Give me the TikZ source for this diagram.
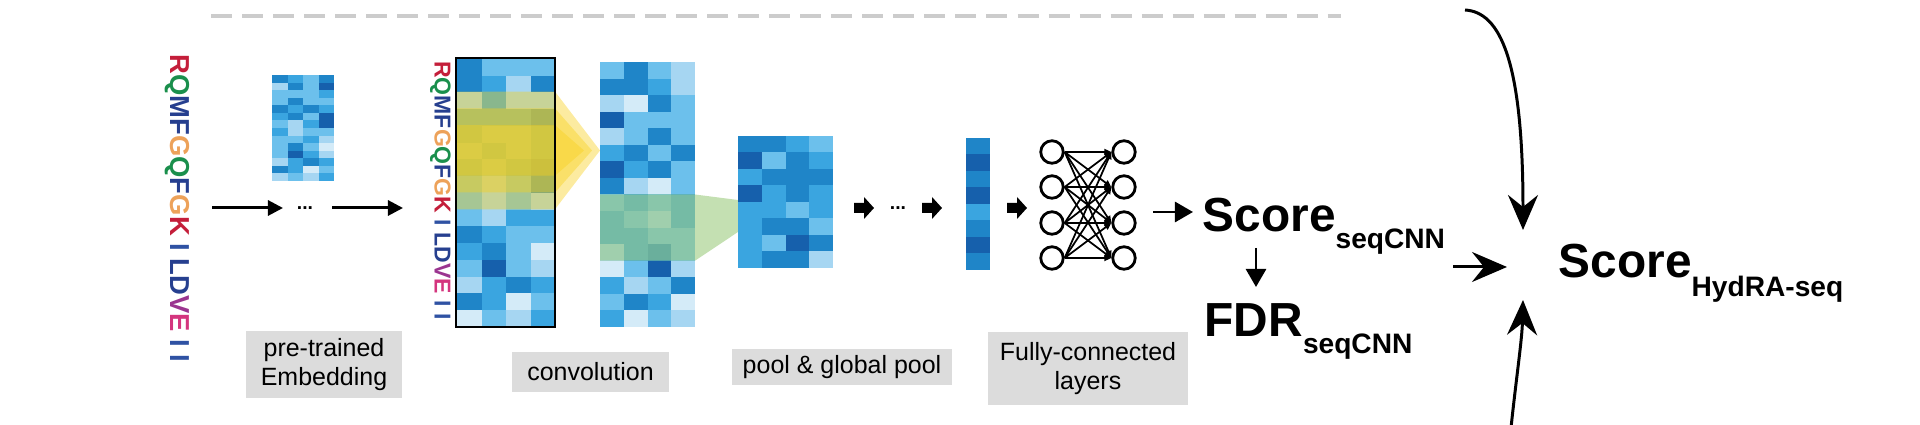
\documentclass[tikz,border=0pt]{standalone}
\usepackage{fontspec}
\setmainfont{Liberation Sans}
\usetikzlibrary{arrows.meta}

% blues, light to dark
\definecolor{b1}{HTML}{D4EBF8}
\definecolor{b2}{HTML}{A6D6F2}
\definecolor{b3}{HTML}{6CC0EC}
\definecolor{b4}{HTML}{3AA5E0}
\definecolor{b5}{HTML}{1F85C8}
\definecolor{b6}{HTML}{1660AC}
% residue colours
\definecolor{sqR}{HTML}{C41E3A}
\definecolor{sqG}{HTML}{1A8F4C}
\definecolor{sqN}{HTML}{263F8F}
\definecolor{sqO}{HTML}{EDA25A}
\definecolor{sqB}{HTML}{2F52A3}
\definecolor{sqP}{HTML}{9B3590}
\definecolor{sqM}{HTML}{D4357E}
\definecolor{hlyellow}{HTML}{F7D01C}
\definecolor{hlgreen}{HTML}{9DCB7F}
\definecolor{lblgray}{HTML}{DCDCDC}

\newcommand{\seqletters}{\textcolor{sqR}{R}\textcolor{sqG}{Q}\textcolor{sqN}{MF}\textcolor{sqO}{G}\textcolor{sqG}{Q}\textcolor{sqN}{F}\textcolor{sqO}{G}\textcolor{sqR}{K} \textcolor{sqB}{I} \textcolor{sqN}{LD}\textcolor{sqP}{V}\textcolor{sqM}{E} \textcolor{sqB}{I} \textcolor{sqB}{I}}
\newcommand{\lowtext}[2]{\raisebox{#1}{\fontsize{8}{10}\selectfont #2}}
% x, y, cell width, cell height, rows
\newcommand{\heatmap}[5]{%
  \foreach \hmrow [count=\i from 0] in {#5} {
    \foreach \hmc [count=\j from 0] in \hmrow
      \fill[b\hmc] ({#1+#3*\j},{#2+#4*\i}) rectangle ++({#3+0.4},{#4+0.4});
  }}
\newcommand{\fatarrow}[2]{\fill ({#1},{#2-5}) -- ++(10,0) -- ++(0,-6) -- ++(10,11) -- ++(-10,11) -- ++(0,-6) -- ++(-10,0) -- cycle;}

\tikzset{
  seq/.style={rotate=-90, inner sep=0},
  lbl/.style={fill=lblgray, inner sep=0, align=center, font=\fontsize{7.1}{8.2}\selectfont},
  neuron/.style={circle, draw, line width=0.8pt, minimum size=0.225cm, inner sep=0},
  thinarrow/.style={line width=0.85pt, -{Triangle[length=1.5mm,width=1.5mm]}},
  scorearrow/.style={line width=0.8pt, -{Triangle[length=1.8mm,width=2mm]}},
  fcedge/.style={line width=0.5pt, -{Triangle[length=0.7mm,width=0.6mm]}},
  bigarrow/.style={line width=0.85pt, -{Stealth[length=3.5mm,width=3mm,inset=1.2mm]}},
  dotsnode/.style={inner sep=0, font=\bfseries\fontsize{5.5}{6}\selectfont},
  bigtext/.style={anchor=base west, inner sep=0, font=\bfseries\fontsize{13.6}{16}\selectfont}
}

\begin{document}
\begin{tikzpicture}[x=0.01cm, y=-0.01cm]
    \useasboundingbox (0,0) rectangle (1920,425);

    % separator
    \draw[black!20, line width=1.1pt, dash pattern=on 0.21cm off 0.1cm] (211,16) -- (1341,16);

    % input sequence
    \node[seq, font=\bfseries\fontsize{7.8}{9}\selectfont] (seqL) at (177.5,208.5) {\seqletters};
    \coordinate (a1) at (212,208);
    \coordinate (a2) at (283,208);
    \coordinate (a3) at (332,208);
    \coordinate (a4) at (403,208);
    \draw[thinarrow] (a1) -- (a2);
    \node[dotsnode] (dotsA) at (305,208) {...};
    \draw[thinarrow] (a3) -- (a4);

    % embedding
    \heatmap{272}{75}{15.5}{7.57}{{5,4,3,5},{2,5,3,6},{3,3,3,4},{3,5,3,3},{5,4,5,4},{4,5,3,6},{3,2,4,6},{4,2,3,3},{3,3,4,2},{3,5,3,1},{3,6,4,2},{2,4,5,4},{5,4,1,3},{2,3,2,4}}

    % convolution
    \node[seq, font=\bfseries\fontsize{6.55}{8}\selectfont] (seqC) at (440.5,190.5) {\seqletters};
    \heatmap{457}{59}{24.5}{16.75}{{5,3,3,3},{5,4,2,5},{2,4,2,2},{4,4,4,5},{4,3,3,4},{3,4,3,4},{4,3,4,5},{3,2,3,5},{3,2,3,2},{3,2,4,4},{5,4,3,3},{4,5,3,1},{3,6,3,2},{2,4,5,4},{5,4,1,3},{1,3,2,4}}
    \heatmap{600}{62}{23.75}{16.56}{{3,5,3,2},{5,5,4,2},{2,1,5,3},{6,3,3,3},{2,3,5,3},{4,5,3,5},{6,4,5,3},{5,2,1,3},{3,4,3,4},{4,3,2,4},{4,4,3,3},{2,4,5,3},{1,3,6,2},{4,2,3,5},{3,5,4,1},{4,1,3,2}}
    \begin{scope}[fill=hlyellow, fill opacity=0.42]
        \fill (456,91.6) -- (555,91.6) -- (600,150.5) -- (555,209.3) -- (456,209.3) -- cycle;
        \fill (456,108.4) -- (555,108.4) -- (592,150.5) -- (555,192.5) -- (456,192.5) -- cycle;
        \fill (456,125.2) -- (555,125.2) -- (584,150.5) -- (555,175.7) -- (456,175.7) -- cycle;
    \end{scope}
    \node[draw, line width=0.75pt, minimum width=0.99cm, minimum height=2.69cm, inner sep=0] (conv) at (505.5,192.5) {};
    \fill[hlgreen, fill opacity=0.6] (600,194.5) -- (695,194.5) -- (738,200) -- (738,232) -- (695,260.7) -- (600,260.7) -- cycle;

    % pooling
    \heatmap{738}{136}{23.75}{16.5}{{5,5,4,3},{6,3,5,4},{4,5,5,5},{6,4,5,4},{4,4,3,4},{4,5,5,3},{4,3,6,5},{4,5,5,2}}
    \fatarrow{854}{208}
    \node[dotsnode] (dotsB) at (898,208) {...};
    \fatarrow{922}{208}
    \heatmap{966}{138}{24}{16.5}{{5},{6},{5},{6},{4},{5},{6},{5}}
    \fatarrow{1007}{208}

    % fully connected
    \foreach \i/\y in {1/152,2/187,3/223,4/258} {
        \node[neuron] (l\i) at (1052,\y) {};
        \node[neuron] (r\i) at (1124,\y) {};
    }
    \foreach \i in {1,...,4}
        \foreach \j in {1,...,4}
            \draw[fcedge] (l\i.east) -- (r\j.west);

    % scores
    \coordinate (s1) at (1153,212);
    \coordinate (s2) at (1193,212);
    \draw[scorearrow] (s1) -- (s2);
    \node[bigtext] (score) at (1202,232) {Score\lowtext{-0.16cm}{seqCNN}};
    \node[bigtext] (fdr) at (1204,337) {FDR\lowtext{-0.16cm}{seqCNN}};
    \coordinate (f1) at (1256,248);
    \coordinate (f2) at (1256,287);
    \draw[scorearrow] (f1) -- (f2);

    \node[bigtext] (hydra) at (1558,278) {Score\lowtext{-0.18cm}{HydRA-seq}};
    \coordinate (topS) at (1465,10);
    \coordinate (topE) at (1523,230);
    \coordinate (midS) at (1453,267);
    \coordinate (midE) at (1507,267);
    \coordinate (botS) at (1511,428);
    \coordinate (botE) at (1523,300);
    \draw[bigarrow] (topS) .. controls (1500,12) and (1523,60) .. (topE);
    \draw[bigarrow] (midS) -- (midE);
    \draw[bigarrow] (botS) .. controls (1516,380) and (1522,340) .. (botE);

    % labels
    \node[lbl, minimum width=1.56cm, minimum height=0.67cm] (embLbl) at (324,364.5) {pre-trained\\Embedding};
    \node[lbl, minimum width=1.57cm, minimum height=0.40cm] (convLbl) at (590.5,372) {convolution};
    \node[lbl, minimum width=2.20cm, minimum height=0.36cm] (poolLbl) at (842,367) {pool \& global pool};
    \node[lbl, minimum width=2.00cm, minimum height=0.73cm] (fcLbl) at (1088,368.5) {Fully-connected\\layers};

\end{tikzpicture}
\end{document}
